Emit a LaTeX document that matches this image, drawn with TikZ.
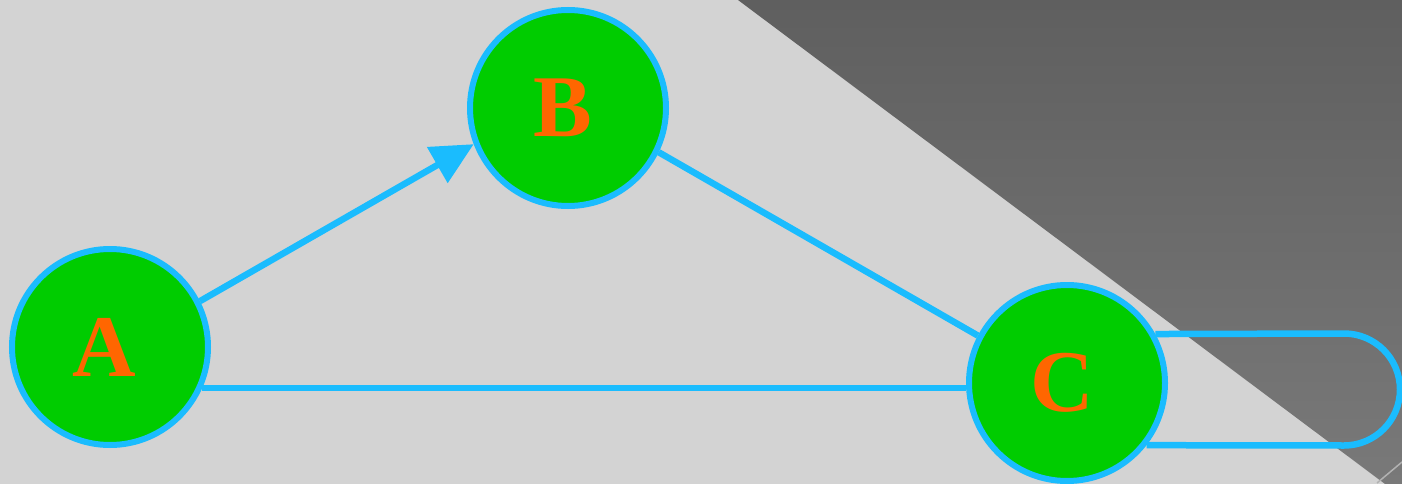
\documentclass[tikz,border=0pt]{standalone}
\usepackage{fontspec}
\setmainfont{Liberation Serif}
\usetikzlibrary{arrows.meta}
\definecolor{bg}{HTML}{D3D3D3}
\definecolor{nodegreen}{HTML}{00CC00}
\definecolor{edgeblue}{HTML}{1ABCFE}
\definecolor{labelorange}{HTML}{FF6600}
\definecolor{shadetop}{HTML}{5F5F5F}
\definecolor{shadebot}{HTML}{797979}
\tikzset{
  vertex/.style={circle, draw=edgeblue, line width=6pt, fill=nodegreen, minimum size=196pt, inner sep=0pt},
  lbl/.style={text=labelorange, font=\fontsize{88}{88}\selectfont\bfseries, inner sep=0pt},
  edge/.style={draw=edgeblue, line width=6.5pt},
  tip/.style={-{Triangle[length=42pt,width=40pt]}}
}
\begin{document}
\begin{tikzpicture}[x=1pt,y=-1pt]
\useasboundingbox (0,0) rectangle (1402,484);
\fill[bg] (0,0) rectangle (1402,484);
\shade[top color=shadetop, bottom color=shadebot] (738,0) -- (1402,0) -- (1402,484) -- (1385,484) -- cycle;
\draw[color=black!30, line width=1.5pt] (1377,483) -- (1402,462);
\node[vertex] (A) at (110,347) {};
\node[vertex] (B) at (568,108) {};
\node[vertex] (C) at (1067,383) {};
\node[lbl] (Al) at (104,347) {A};
\node[lbl] (Bl) at (563,108) {B};
\node[lbl] (Cl) at (1062,383) {C};
\coordinate (LT) at (1344,333.5);
\draw[edge, tip] (A.27) -- (B.201);
\draw[edge] (B.-26) -- (C.152);
\draw[edge] (A.-24.6) -- (A.-24.6 -| C.west);
\draw[edge] (C.29.35) -- (LT) arc[start angle=-90, end angle=90, radius=56] -- (C.-38.2);
\end{tikzpicture}
\end{document}
